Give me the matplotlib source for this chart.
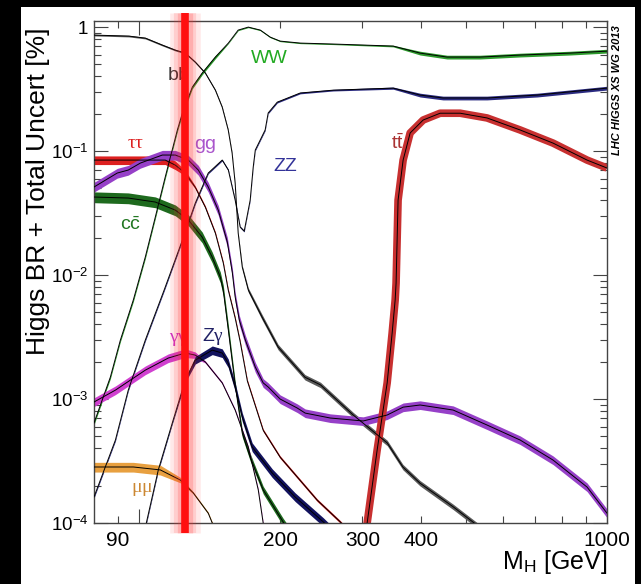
import numpy as np
import matplotlib
matplotlib.use('Agg')
import matplotlib.pyplot as plt
from matplotlib.patches import Rectangle

plt.rcParams['font.family'] = 'Liberation Sans'
plt.rcParams['mathtext.fontset'] = 'custom'
plt.rcParams['mathtext.rm'] = 'Liberation Sans'
plt.rcParams['mathtext.it'] = 'Liberation Serif'
plt.rcParams['mathtext.bf'] = 'Liberation Sans:bold'

# Higgs mass [GeV], branching ratio and relative band half-width per channel
bb_m = [80, 95, 103, 112, 119.4, 125.4, 131.7, 138.4, 145.4, 150.4, 154.9, 157.9, 160.3, 162.7,
        166, 171, 183, 198, 226, 244, 287, 339, 366, 398, 469, 520, 560]
bb_br = [0.862, 0.846, 0.815, 0.716, 0.652, 0.617, 0.522, 0.426, 0.31, 0.226, 0.148, 0.0964, 0.055, 0.0218,
         0.0116, 0.00757, 0.00458, 0.00263, 0.0015, 0.0013, 7.4e-4, 4.42e-4, 2.83e-4, 2.1e-4, 1.35e-4, 1.0e-4, 8.1e-5]
bb_unc = [0.015, 0.015, 0.015, 0.015, 0.015, 0.015, 0.015, 0.015, 0.015, 0.015, 0.015, 0.015, 0.015, 0.015,
          0.03, 0.04, 0.05, 0.05, 0.05, 0.05, 0.05, 0.05, 0.05, 0.05, 0.05, 0.05, 0.05]

ww_m = [80, 86.7, 91.1, 97.1, 103, 108.2, 113.6, 120.6, 123.6, 129.8, 136.3, 145.4,
        155, 162.7, 171, 181.4, 190.5, 200, 221, 260, 349, 398.5, 455, 535, 652, 834, 1000]
ww_br = [6.4e-4, 1.5e-3, 2.99e-3, 6.3e-3, 0.014, 0.0294, 0.0617, 0.148, 0.202, 0.328, 0.426, 0.573,
         0.743, 0.946, 1.0, 0.946, 0.83, 0.771, 0.743, 0.73, 0.703, 0.617, 0.573, 0.573, 0.595, 0.617, 0.64]
ww_unc = [0.03, 0.03, 0.03, 0.03, 0.03, 0.03, 0.03, 0.03, 0.03, 0.03, 0.03, 0.03,
          0.01, 0.01, 0.01, 0.01, 0.01, 0.01, 0.01, 0.01, 0.015, 0.035, 0.035, 0.035, 0.035, 0.035, 0.035]

zz_m = [80, 88.9, 94.7, 103, 113, 123.6, 131.7, 140.4, 150.4, 155, 160.3, 164.3, 167.6, 172.6, 175.2,
        177, 185.8, 188.6, 197.2, 220.8, 259.8, 349, 398.5, 446, 554, 709, 1000]
zz_br = [1.62e-4, 4.67e-4, 1.18e-3, 2.99e-3, 7.57e-3, 0.0191, 0.038, 0.0665, 0.0846, 0.0703, 0.0402, 0.0244,
         0.0226, 0.0402, 0.0743, 0.102, 0.148, 0.203, 0.248, 0.294, 0.31, 0.322, 0.283, 0.268, 0.268, 0.283, 0.322]
zz_unc = [0.02, 0.02, 0.02, 0.02, 0.02, 0.02, 0.02, 0.015, 0.015, 0.015, 0.015, 0.015, 0.015, 0.015,
          0.015, 0.015, 0.015, 0.015, 0.015, 0.015, 0.015, 0.02, 0.035, 0.035, 0.035, 0.035, 0.035]

tt_m = [300, 307, 322.5, 338.8, 347.2, 352.4, 354, 357.5, 366.5, 379.4, 404.5, 439.7, 485.3, 554, 652, 766.6, 906.5, 1000]
tt_br = [5.3e-5, 1e-4, 3.88e-4, 1.35e-3, 3.4e-3, 6.3e-3, 8.6e-3, 0.0402, 0.0846, 0.14, 0.178, 0.202, 0.202,
         0.185, 0.148, 0.116, 0.0846, 0.073]

gg_m = [80, 89.7, 94.7, 100.5, 112, 119.4, 127.3, 133.7, 140.4, 147.5, 154.2, 158, 160.3, 163.6, 168.5, 177,
        184, 188.6, 200, 217.6, 226.3, 255.9, 301, 338.8, 366.5, 398.5, 468.8, 554, 652, 766.6, 906.5, 1000]
gg_br = [0.0513, 0.0665, 0.0703, 0.08, 0.0929, 0.0929, 0.0846, 0.0703, 0.0513, 0.0334, 0.0185, 0.0106, 0.00665,
         0.00434, 0.003, 0.00181, 0.00135, 0.00125, 0.00100, 8.46e-4, 7.7e-4, 7.03e-4, 6.65e-4, 7.43e-4, 8.6e-4,
         8.95e-4, 8.15e-4, 6.17e-4, 4.67e-4, 3.22e-4, 1.95e-4, 1.2e-4]
gg_unc = [0.09, 0.09, 0.09, 0.09, 0.09, 0.09, 0.09, 0.09, 0.09, 0.09, 0.09, 0.09, 0.09, 0.09, 0.09, 0.09,
          0.08, 0.08, 0.08, 0.08, 0.08, 0.08, 0.08, 0.08, 0.08, 0.08, 0.08, 0.08, 0.08, 0.08, 0.08, 0.08]

tau_m = [80, 113.6, 119.4, 125.4, 131.7, 138.4, 145.4, 151.2, 154.9, 160.3, 164.3, 170.2, 184, 200, 217.6, 240, 269, 290]
tau_br = [0.0846, 0.0846, 0.077, 0.0665, 0.051, 0.0353, 0.0218, 0.0125, 0.0076, 0.0045, 2.9e-3, 1.4e-3,
          5.6e-4, 3.4e-4, 2.35e-4, 1.53e-4, 1.02e-4, 7.5e-5]
tau_unc = [0.08, 0.08, 0.08, 0.05, 0.025, 0.025, 0.025, 0.025, 0.025, 0.025, 0.025, 0.025,
           0.025, 0.025, 0.025, 0.025, 0.025, 0.025]

cc_m = [80, 94.7, 108.2, 119.4, 127.3, 136.3, 143.1, 149, 151.2, 155, 160.3, 166, 172.6, 184, 203, 215]
cc_br = [0.0426, 0.0418, 0.0388, 0.0334, 0.0278, 0.0202, 0.014, 0.00963, 0.0075, 0.0036, 1.3e-3, 5.3e-4,
         3.4e-4, 1.85e-4, 1.02e-4, 7.5e-5]
cc_unc = [0.1, 0.1, 0.1, 0.1, 0.1, 0.1, 0.1, 0.1, 0.1, 0.1, 0.07, 0.07, 0.07, 0.07, 0.07, 0.07]

aa_m = [80, 88.9, 103, 115.3, 125.4, 131.7, 138.4, 150.4, 160.3, 171, 179.6, 184, 190]
aa_br = [9.46e-4, 1.18e-3, 1.71e-3, 2.14e-3, 2.35e-3, 2.26e-3, 1.99e-3, 1.35e-3, 8.15e-4, 4.1e-4, 1.85e-4, 1.0e-4, 7e-5]
aa_unc = [0.08, 0.08, 0.08, 0.08, 0.08, 0.06, 0.02, 0.02, 0.02, 0.02, 0.02, 0.02, 0.02]

za_m = [100, 103.5, 109.8, 117.6, 125.4, 131.7, 143.2, 150.4, 154.9, 160.3, 166, 174.3, 192.4, 215.4, 247.4, 260]
za_br = [6e-5, 1e-4, 2.68e-4, 6.4e-4, 1.42e-3, 2.06e-3, 2.48e-3, 2.35e-3, 1.95e-3, 1.25e-3, 7.16e-4, 4.1e-4,
         2.53e-4, 1.62e-4, 1.02e-4, 8.5e-5]
za_unc = [0.02, 0.02, 0.02, 0.02, 0.04, 0.07, 0.08, 0.08, 0.08, 0.08, 0.08, 0.08, 0.08, 0.08, 0.08, 0.08]

mumu_m = [80, 97.1, 110.9, 122.4, 130.4, 140.4, 143.2, 148]
mumu_br = [2.83e-4, 2.83e-4, 2.68e-4, 2.22e-4, 1.75e-4, 1.2e-4, 1e-4, 8e-5]
mumu_unc = [0.09, 0.09, 0.09, 0.05, 0.02, 0.02, 0.02, 0.02]

channels = [
    (bb_m, bb_br, bb_unc, '#5a5a5a'),
    (ww_m, ww_br, ww_unc, '#2c9a2c'),
    (zz_m, zz_br, zz_unc, '#2a2a80'),
    (tau_m, tau_br, tau_unc, '#dd2020'),
    (cc_m, cc_br, cc_unc, '#1e6a1e'),
    (gg_m, gg_br, gg_unc, '#9640c8'),
    (aa_m, aa_br, aa_unc, '#d040d0'),
    (za_m, za_br, za_unc, '#12125e'),
    (mumu_m, mumu_br, mumu_unc, '#e8a040'),
]

# label text, mass, BR, colour
labels = [
    (r'b$\bar{\mathrm{b}}$', 121, 0.41, '#333333'),
    ('WW', 190, 0.56, '#22aa22'),
    (r'$\tau\tau$', 98, 0.116, '#dd2222'),
    ('gg', 138.5, 0.112, '#aa55cc'),
    ('ZZ', 205, 0.0757, '#333399'),
    (r't$\bar{\mathrm{t}}$', 357, 0.116, '#aa3333'),
    (r'c$\bar{\mathrm{c}}$', 95.7, 0.0253, '#227722'),
    (r'$\gamma\gamma$', 121, 0.003, '#cc33cc'),
    (r'Z$\gamma$', 144, 0.0032, '#222266'),
    (r'$\mu\mu$', 101.5, 1.85e-4, '#cc8833'),
]

m_higgs = 125

fig = plt.figure(figsize=(6.41, 5.84), dpi=100)
fig.patch.set_facecolor('black')
fig.patches.append(Rectangle((21 / 641, 0), 614 / 641, 577 / 584, transform=fig.transFigure,
                             facecolor='white', edgecolor='none', zorder=-10))

ax = fig.add_axes([94 / 641, 61 / 584, 513 / 641, 502 / 584])
ax.set_zorder(1)
ax.set_xscale('log')
ax.set_yscale('log')

for m, br, unc, col in channels:
    m = np.array(m)
    br = np.array(br)
    unc = np.array(unc)
    ax.fill_between(m, br * (1 - unc), br * (1 + unc), color=col, lw=0, zorder=2)
    ax.plot(m, br, color='black', lw=0.7, zorder=3)

# top quark band is drawn as a broad line
ax.plot(tt_m, tt_br, color='#c83030', lw=5.5, solid_capstyle='butt', zorder=2)
ax.plot(tt_m, tt_br, color='black', lw=0.7, zorder=3)

for txt, x, y, col in labels:
    ax.text(x, y, txt, color=col, fontsize=14, ha='center', va='center', zorder=4)

# red line at the observed mass, with soft glow
for lw, a in [(22, 0.10), (16, 0.14), (11, 0.2)]:
    ax.axvline(m_higgs, ymin=-0.02, ymax=1.016, color='#ff3030', lw=lw, alpha=a,
               solid_capstyle='butt', clip_on=False, zorder=5)
ax.axvline(m_higgs, ymin=-0.02, ymax=1.016, color='#ff1010', lw=5.5,
           solid_capstyle='butt', clip_on=False, zorder=6)

ax.set_xlim(80, 1000)
ax.set_ylim(1e-4, 1.12)

ax.set_xticks([100, 1000], ['', '1000'])
ax.set_xticks([90, 200, 300, 400, 500, 600, 700, 800, 900],
              ['90', '200', '300', '400', '', '', '', '', ''], minor=True)
ax.set_yticks([1e-4, 1e-3, 1e-2, 1e-1, 1],
              [r'10$^{-4}$', r'10$^{-3}$', r'10$^{-2}$', r'10$^{-1}$', '1'])
ax.yaxis.set_minor_locator(matplotlib.ticker.LogLocator(base=10, subs=np.arange(2, 10)))
ax.yaxis.set_minor_formatter(matplotlib.ticker.NullFormatter())

ax.tick_params(which='both', direction='in', top=True, right=True, width=0.8, color='#444444')
ax.tick_params(which='major', length=10)
ax.tick_params(which='minor', length=5)
ax.tick_params(axis='x', which='both', labelsize=15, pad=6)
ax.tick_params(axis='y', which='both', labelsize=13.5, pad=4)
for s in ax.spines.values():
    s.set_color('#444444')
    s.set_linewidth(1.0)

fig.text(0.06, 0.673, 'Higgs BR + Total Uncert [%]', rotation=90, ha='center', va='center', fontsize=19)
fig.text(607 / 641, 0.038, r'M$_{\mathrm{H}}$ [GeV]', ha='right', va='center', fontsize=18)
fig.text(617 / 641, 0.846, 'LHC HIGGS XS WG 2013', rotation=90, ha='center', va='center',
         fontsize=8, fontweight='bold', fontstyle='italic')

plt.savefig('out.png', dpi=100, facecolor=fig.get_facecolor())
